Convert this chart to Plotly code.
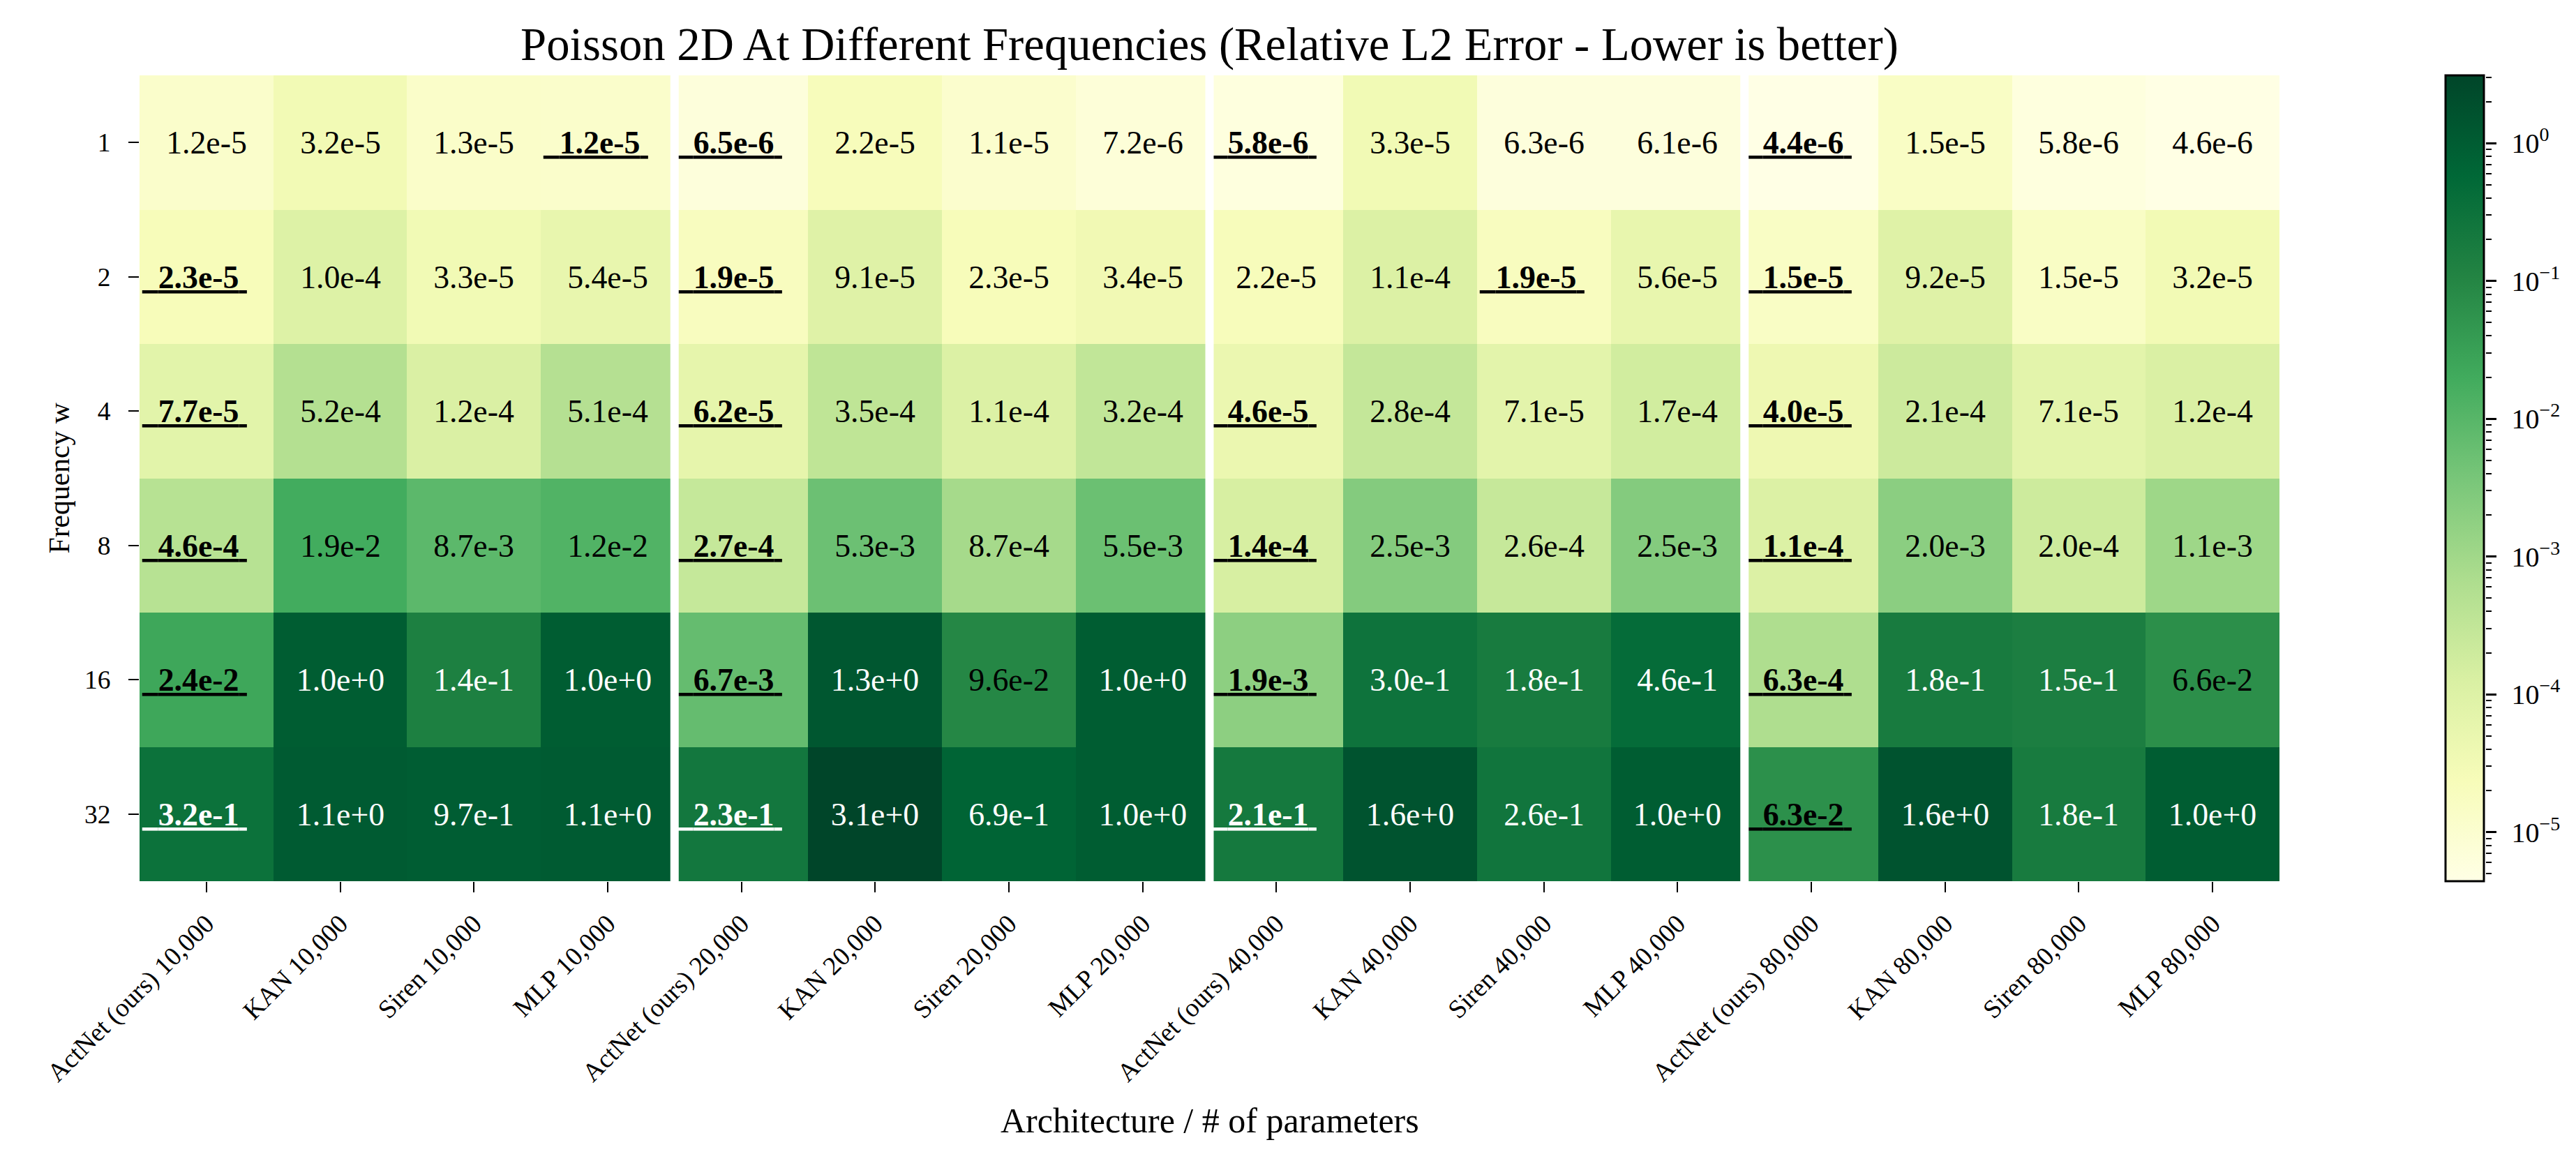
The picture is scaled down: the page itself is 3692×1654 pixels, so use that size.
import numpy as np
import plotly.graph_objects as go

# ---------------- data ----------------
frequencies = ["1", "2", "4", "8", "16", "32"]
column_labels = [
    "ActNet (ours) 10,000", "KAN 10,000", "Siren 10,000", "MLP 10,000",
    "ActNet (ours) 20,000", "KAN 20,000", "Siren 20,000", "MLP 20,000",
    "ActNet (ours) 40,000", "KAN 40,000", "Siren 40,000", "MLP 40,000",
    "ActNet (ours) 80,000", "KAN 80,000", "Siren 80,000", "MLP 80,000",
]
group_size = 4

err_w1 = [1.2e-5, 3.2e-5, 1.3e-5, 1.2e-5, 6.5e-6, 2.2e-5, 1.1e-5, 7.2e-6,
          5.8e-6, 3.3e-5, 6.3e-6, 6.1e-6, 4.4e-6, 1.5e-5, 5.8e-6, 4.6e-6]
err_w2 = [2.3e-5, 1.0e-4, 3.3e-5, 5.4e-5, 1.9e-5, 9.1e-5, 2.3e-5, 3.4e-5,
          2.2e-5, 1.1e-4, 1.9e-5, 5.6e-5, 1.5e-5, 9.2e-5, 1.5e-5, 3.2e-5]
err_w4 = [7.7e-5, 5.2e-4, 1.2e-4, 5.1e-4, 6.2e-5, 3.5e-4, 1.1e-4, 3.2e-4,
          4.6e-5, 2.8e-4, 7.1e-5, 1.7e-4, 4.0e-5, 2.1e-4, 7.1e-5, 1.2e-4]
err_w8 = [4.6e-4, 1.9e-2, 8.7e-3, 1.2e-2, 2.7e-4, 5.3e-3, 8.7e-4, 5.5e-3,
          1.4e-4, 2.5e-3, 2.6e-4, 2.5e-3, 1.1e-4, 2.0e-3, 2.0e-4, 1.1e-3]
err_w16 = [2.4e-2, 1.0e+0, 1.4e-1, 1.0e+0, 6.7e-3, 1.3e+0, 9.6e-2, 1.0e+0,
           1.9e-3, 3.0e-1, 1.8e-1, 4.6e-1, 6.3e-4, 1.8e-1, 1.5e-1, 6.6e-2]
err_w32 = [3.2e-1, 1.1e+0, 9.7e-1, 1.1e+0, 2.3e-1, 3.1e+0, 6.9e-1, 1.0e+0,
           2.1e-1, 1.6e+0, 2.6e-1, 1.0e+0, 6.3e-2, 1.6e+0, 1.8e-1, 1.0e+0]
errors = [err_w1, err_w2, err_w4, err_w8, err_w16, err_w32]

# index (within each group of 4) of the best (bold, underlined) entry, per row
best_w1 = [3, 0, 0, 0]
best_w2 = [0, 0, 2, 0]
best_w4 = [0, 0, 0, 0]
best_w8 = [0, 0, 0, 0]
best_w16 = [0, 0, 0, 0]
best_w32 = [0, 0, 0, 0]
best = [best_w1, best_w2, best_w4, best_w8, best_w16, best_w32]

colorbar_decades = [-5, -4, -3, -2, -1, 0]

# ---------------- layout constants ----------------
W, H = 3692, 1654
ML, MR, MT, MB = 192, 40, 100, 399
PW = W - ML - MR
PH = H - MT - MB
heat_right = 3259
xdom = (heat_right - ML) / PW
cb_left = 3497
cb_thick = 55
cb_x = (cb_left - ML) / PW
ax2_pos = (cb_left + cb_thick + 1.5 - ML) / PW

SERIF = "Liberation Serif, Times New Roman, serif"
NB = "\u00a0"


def fmt(v):
    m, e = f"{v:.1e}".split("e")
    return f"{m}e{int(e):+d}"


z = np.log10(np.array(errors, dtype=float))
zmin, zmax = float(z.min()), float(z.max())

text = []
for i, row in enumerate(errors):
    trow = []
    for j, v in enumerate(row):
        s = fmt(v)
        g, k = divmod(j, group_size)
        if best[i][g] == k:
            s = f"<u>{NB}{NB}<b>{s}</b>{NB}</u>{NB}{NB}{NB}"
        if v >= 0.1:
            s = f"<span style='color:white'>{s}</span>"
        trow.append(s)
    text.append(trow)

minor_vals = []
for d in range(-7, 1):
    for k in range(2, 10):
        lv = np.log10(k * 10.0 ** d)
        if zmin <= lv <= zmax:
            minor_vals.append(lv)

fig = go.Figure()
fig.add_trace(go.Heatmap(
    z=z, x=column_labels, y=frequencies,
    colorscale="YlGn", zmin=zmin, zmax=zmax,
    text=text, texttemplate="%{text}",
    textfont=dict(family=SERIF, size=45.8, color="black"),
    hoverinfo="skip",
    colorbar=dict(
        x=cb_x, xanchor="left", xpad=0, ypad=0,
        y=0.5, yanchor="middle", len=1, lenmode="fraction",
        thickness=cb_thick, outlinewidth=3, outlinecolor="black",
        ticks="", showticklabels=False,
    ),
))
fig.add_trace(go.Scatter(x=[None], y=[None], yaxis="y2",
                         mode="lines", showlegend=False, hoverinfo="skip"))

n_groups = len(column_labels) // group_size
for g in range(1, n_groups):
    xb = g * group_size - 0.5
    fig.add_shape(type="line", xref="x", yref="paper", x0=xb, x1=xb, y0=0, y1=1,
                  line=dict(color="white", width=12), layer="above")

tick_common = dict(ticks="outside", ticklen=15, tickwidth=2, tickcolor="black",
                   showgrid=False, zeroline=False, showline=False, automargin=False)

fig.update_layout(
    width=W, height=H,
    margin=dict(l=ML, r=MR, t=MT, b=MB, pad=0),
    paper_bgcolor="white", plot_bgcolor="white",
    font=dict(family=SERIF, color="black"),
    title=dict(text="Poisson 2D At Different Frequencies (Relative L2 Error - Lower is better)",
               font=dict(family=SERIF, size=66.7, color="black"),
               x=xdom / 2, xref="paper", xanchor="center",
               y=1 - 55 / H, yref="container", yanchor="middle"),
    xaxis=dict(domain=[0, xdom], type="category", tickangle=-45,
               range=[-0.5, len(column_labels) - 0.5], autorange=False,
               tickfont=dict(family=SERIF, size=37.5), ticklabelstandoff=8,
               **tick_common),
    yaxis=dict(type="category", range=[len(frequencies) - 0.5, -0.5], autorange=False,
               tickfont=dict(family=SERIF, size=37.5), ticklabelstandoff=18,
               **tick_common),
    yaxis2=dict(overlaying="y", anchor="free", position=ax2_pos, side="right",
                range=[zmin, zmax], autorange=False, automargin=False,
                tickmode="array", tickvals=colorbar_decades,
                ticktext=[f"10<sup>{'\u2212' if d < 0 else ''}{abs(d)}</sup>" for d in colorbar_decades],
                ticks="outside", ticklen=15, tickwidth=3, tickcolor="black",
                tickfont=dict(family=SERIF, size=40), ticklabelstandoff=14,
                showgrid=False, zeroline=False, showline=False,
                minor=dict(tickmode="array", tickvals=minor_vals, ticks="outside",
                           ticklen=8, tickwidth=2, tickcolor="black", showgrid=False)),
    annotations=[
        dict(text="Architecture / # of parameters", xref="paper", yref="paper",
             x=xdom / 2, y=-(1598 - (H - MB)) / PH, xanchor="center", yanchor="middle",
             showarrow=False, font=dict(family=SERIF, size=50, color="black")),
        dict(text="Frequency w", xref="paper", yref="paper",
             x=(76 - ML) / PW, y=0.5, xanchor="center", yanchor="middle",
             textangle=-90, showarrow=False,
             font=dict(family=SERIF, size=41.7, color="black")),
    ],
    showlegend=False,
)

fig.write_html("out.html")
